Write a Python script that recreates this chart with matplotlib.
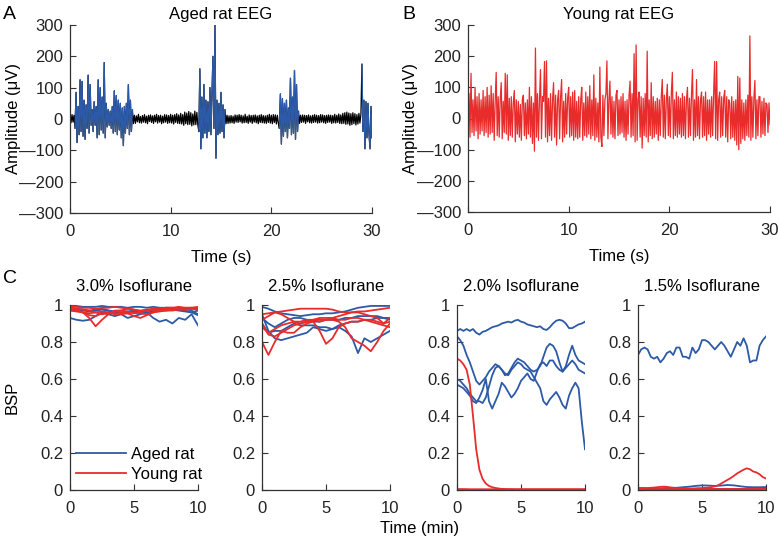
import numpy as np
import matplotlib
matplotlib.use("Agg")
import matplotlib.pyplot as plt
from matplotlib.lines import Line2D

plt.rcParams['font.family'] = ['Liberation Sans', 'DejaVu Sans']
plt.rcParams['font.size'] = 12

BLUE = '#2d5aa6'
RED = '#e82b2b'

# ---- EEG traces, sampled every 0.1 s (uV) ----
aged_uv = [
    8, -12, 14, -10, 12, -30, 85, -75, 40, -50,
    125, -40, 120, -55, 60, -65, 45, -30, 140, -45,
    110, -20, 30, -40, 55, -20, 40, -60, 125, -50,
    100, -35, 70, -45, 180, -60, 50, -25, 30, -20,
    25, -30, 40, -45, 90, -40, 75, -50, 60, -35,
    50, -60, 35, -85, 40, -45, 50, -30, 110, -50,
    60, -40, 30, -15, 12, -14, 10, -9, 15, -12,
    8, -13, 11, -10, 14, -12, 9, -15, 12, -8,
    13, -11, 10, -14, 12, -9, 15, -13, 11, -10,
    12, -15, 9, -12, 14, -10, 13, -14, 11, -12,
    15, -13, 12, -16, 14, -11, 17, -14, 13, -15,
    18, -16, 14, -20, 22, -15, 19, -18, 24, -17,
    20, -22, 16, -19, 25, -18, 21, -20, -40, 160,
    -95, 70, -60, 110, -45, 60, -60, 55, -40, 100,
    -50, 80, 200, -30, 300, -125, 60, -50, 50, -45,
    85, -40, 45, -60, 30, -15, 12, -14, 10, -13,
    11, -12, 9, -14, 13, -10, 12, -11, 14, -9,
    12, -13, 10, -12, 15, -11, 9, -14, 13, -10,
    11, -14, 12, -10, 13, -12, 10, -15, 12, -11,
    14, -12, 11, -13, 10, -14, 12, -11, 15, -13,
    12, -15, 14, -11, 13, -16, 12, -14, -30, 80,
    -80, 65, -55, 50, -40, 60, -60, 35, -30, 130,
    -50, 70, -45, 155, -65, 110, -40, 25, -14, 12,
    -11, 13, -10, 12, -14, 11, -9, 13, -12, 10,
    -13, 12, -11, 14, -10, 12, -13, 11, -12, 14,
    -10, 13, -12, 11, -14, 12, -11, 13, -10, 12,
    -14, 11, -12, 15, -13, 12, -11, 16, -14, 13,
    -15, 18, -14, 20, -17, 22, -16, 19, -20, 17,
    -18, 20, -15, 17, -19, 14, -16, 18, -13, 15,
    175, -40, 60, -95, 55, -60, 50, -45, -95, 40,
    -60,
]
# burst-suppression bursts in the aged trace (start s, end s)
aged_bursts = [(0.5, 6.2), (12.8, 15.4), (20.8, 22.7), (29.0, 30.0)]

young_uv = [
    -20, 80, -60, 145, -45, 60, -55, 100, -40, 70,
    -65, 80, -50, 60, -40, 90, -55, 70, -45, 100,
    -60, 75, -50, 105, -45, 80, -70, 55, 148, -55,
    70, -60, 60, 115, -65, 55, -45, 145, -50, 140,
    -70, 65, -55, 70, -60, 50, 90, -75, 60, -50,
    55, -60, 45, -70, 60, 75, -55, 50, -65, 60,
    -50, 100, -60, 70, -80, 50, -105, 226, -60, 80,
    -70, 60, 157, -65, 70, 55, 183, -60, 185, -75,
    65, -55, 80, -70, 60, 115, -60, 75, -85, 60,
    90, -65, 70, 125, -75, 55, -60, 80, -50, 65,
    100, -60, 70, -55, 85, -70, 90, -60, 55, -65,
    70, -60, 60, 100, -70, 50, -55, 85, -60, 70,
    -50, 105, -65, 60, -55, 140, -70, 65, -60, 50,
    -75, 165, -60, -90, 75, -55, 60, 80, 185, -65,
    60, 120, -50, 70, -60, 55, -65, 75, 90, -55,
    60, -50, 70, -45, 80, -60, 55, -70, 60, -50,
    75, 120, -60, 80, -55, 208, -75, 236, -70, 60,
    85, -60, 70, -95, 65, -55, 80, -60, 216, -75,
    60, -55, 115, -65, 70, -60, 55, -50, 65, -70,
    60, -55, 70, 125, -60, 75, -65, 60, 110, -55,
    70, -60, 80, 148, -65, 60, -55, 85, -60, 70,
    -50, 65, -60, 80, -55, 70, -65, 60, 100, -60,
    65, -55, 75, 157, -70, 60, -60, 125, -55, 70,
    -65, 60, 85, -60, 70, -55, 85, -70, 60, -50,
    60, -60, 70, -55, 80, 183, -65, 183, -70, 60,
    85, -60, 70, -55, 65, 90, -60, 70, -75, 60,
    50, -65, 70, -60, 55, -70, 60, -85, 135, -100,
    130, -80, 60, -65, 50, -70, 60, -55, 75, -60,
    265, -70, 70, -60, 65, 122, -65, 60, -55, 70,
    70, -60, 55, -50, 65, -55, 50, 45, -45, 50,
    -20,
]

eeg_yticks = [-300, -200, -100, 0, 100, 200, 300]
eeg_yticklabels = ['\u2014300', '\u2014200', '\u2014100', '0', '100', '200', '300']
eeg_xticks = [0, 10, 20, 30]

# ---- BSP curves (each spans 0-10 min, evenly sampled) ----
iso_titles = ['3.0% Isoflurane', '2.5% Isoflurane', '2.0% Isoflurane', '1.5% Isoflurane']

bsp_aged_30 = [
    [0.995, 0.995, 0.99, 0.99, 0.99, 0.995, 0.99, 0.99, 0.99, 0.985, 0.99, 0.99, 0.985, 0.99, 0.985, 0.985, 0.985, 0.98, 0.98, 0.97, 0.95],
    [0.97, 0.975, 0.97, 0.965, 0.97, 0.975, 0.97, 0.965, 0.96, 0.965, 0.97, 0.965, 0.96, 0.965, 0.97, 0.97, 0.975, 0.97, 0.965, 0.96, 0.945],
    [0.93, 0.92, 0.915, 0.92, 0.94, 0.96, 0.95, 0.94, 0.95, 0.93, 0.94, 0.95, 0.96, 0.93, 0.91, 0.92, 0.90, 0.93, 0.92, 0.95, 0.89],
    [0.985, 0.98, 0.975, 0.97, 0.975, 0.98, 0.97, 0.96, 0.955, 0.96, 0.965, 0.96, 0.97, 0.975, 0.98, 0.985, 0.98, 0.975, 0.97, 0.96, 0.97],
]
bsp_young_30 = [
    [0.98, 0.975, 0.96, 0.93, 0.885, 0.92, 0.95, 0.97, 0.97, 0.98, 0.975, 0.97, 0.975, 0.98, 0.98, 0.985, 0.985, 0.98, 0.985, 0.985, 0.985],
    [0.99, 0.99, 0.985, 0.985, 0.98, 0.985, 0.985, 0.99, 0.985, 0.98, 0.975, 0.965, 0.97, 0.975, 0.98, 0.985, 0.985, 0.99, 0.985, 0.985, 0.98],
    [0.97, 0.965, 0.96, 0.955, 0.96, 0.965, 0.96, 0.95, 0.96, 0.955, 0.94, 0.93, 0.945, 0.96, 0.965, 0.97, 0.97, 0.975, 0.975, 0.98, 0.98],
    [0.985, 0.98, 0.975, 0.97, 0.96, 0.95, 0.955, 0.965, 0.97, 0.965, 0.955, 0.96, 0.97, 0.975, 0.97, 0.975, 0.98, 0.98, 0.975, 0.98, 0.975],
    [0.98, 0.97, 0.96, 0.945, 0.94, 0.955, 0.96, 0.955, 0.95, 0.955, 0.96, 0.955, 0.95, 0.96, 0.97, 0.98, 0.975, 0.985, 0.98, 0.985, 0.99],
]

bsp_aged_25 = [
    [0.99, 0.98, 0.965, 0.955, 0.95, 0.945, 0.94, 0.945, 0.95, 0.95, 0.955, 0.955, 0.96, 0.965, 0.975, 0.985, 0.99, 0.995, 0.995, 0.995, 0.995],
    [0.95, 0.86, 0.82, 0.81, 0.82, 0.83, 0.84, 0.85, 0.88, 0.87, 0.86, 0.87, 0.88, 0.86, 0.83, 0.74, 0.82, 0.80, 0.82, 0.84, 0.86],
    [0.90, 0.85, 0.86, 0.86, 0.88, 0.90, 0.89, 0.89, 0.89, 0.88, 0.88, 0.87, 0.89, 0.90, 0.91, 0.91, 0.92, 0.92, 0.93, 0.93, 0.93],
    [0.93, 0.90, 0.88, 0.90, 0.92, 0.93, 0.93, 0.92, 0.91, 0.91, 0.92, 0.92, 0.92, 0.93, 0.93, 0.94, 0.94, 0.94, 0.94, 0.93, 0.92],
]
bsp_young_25 = [
    [0.80, 0.73, 0.80, 0.86, 0.85, 0.85, 0.88, 0.90, 0.91, 0.86, 0.79, 0.82, 0.88, 0.90, 0.91, 0.91, 0.92, 0.92, 0.91, 0.90, 0.91],
    [0.95, 0.955, 0.96, 0.965, 0.97, 0.975, 0.98, 0.98, 0.98, 0.98, 0.98, 0.975, 0.965, 0.96, 0.96, 0.965, 0.965, 0.97, 0.975, 0.98, 0.985],
    [0.90, 0.84, 0.83, 0.85, 0.87, 0.89, 0.90, 0.91, 0.92, 0.93, 0.93, 0.93, 0.92, 0.92, 0.93, 0.93, 0.92, 0.91, 0.90, 0.89, 0.88],
    [0.92, 0.94, 0.96, 0.95, 0.93, 0.91, 0.90, 0.91, 0.92, 0.92, 0.92, 0.93, 0.94, 0.95, 0.96, 0.96, 0.95, 0.94, 0.93, 0.90, 0.93],
    [0.88, 0.85, 0.87, 0.89, 0.90, 0.91, 0.91, 0.92, 0.92, 0.91, 0.92, 0.92, 0.91, 0.88, 0.82, 0.80, 0.78, 0.75, 0.80, 0.86, 0.90],
]

bsp_aged_20 = [
    [0.86, 0.87, 0.86, 0.87, 0.86, 0.87, 0.85, 0.84, 0.855, 0.86, 0.87, 0.88, 0.885, 0.89, 0.90, 0.905, 0.91, 0.905, 0.915, 0.92, 0.91,
     0.905, 0.895, 0.89, 0.885, 0.88, 0.885, 0.87, 0.865, 0.88, 0.90, 0.915, 0.92, 0.915, 0.90, 0.875, 0.875, 0.885, 0.895, 0.90, 0.91],
    [0.83, 0.81, 0.78, 0.73, 0.69, 0.64, 0.59, 0.57, 0.59, 0.61, 0.64, 0.66, 0.68, 0.67, 0.65, 0.63, 0.62, 0.65, 0.67, 0.69, 0.68,
     0.66, 0.65, 0.64, 0.61, 0.58, 0.55, 0.48, 0.46, 0.49, 0.51, 0.53, 0.50, 0.46, 0.44, 0.51, 0.55, 0.58, 0.55, 0.37, 0.22],
    [0.60, 0.59, 0.57, 0.55, 0.52, 0.50, 0.48, 0.48, 0.47, 0.50, 0.56, 0.62, 0.66, 0.67, 0.65, 0.62, 0.63, 0.66, 0.69, 0.71, 0.70,
     0.69, 0.67, 0.65, 0.64, 0.65, 0.67, 0.72, 0.77, 0.79, 0.78, 0.75, 0.69, 0.64, 0.67, 0.73, 0.78, 0.73, 0.70, 0.69, 0.68],
    [0.57, 0.56, 0.55, 0.53, 0.51, 0.48, 0.47, 0.50, 0.54, 0.60, 0.48, 0.44, 0.48, 0.52, 0.58, 0.56, 0.53, 0.50, 0.52, 0.55, 0.59,
     0.61, 0.63, 0.60, 0.59, 0.64, 0.68, 0.69, 0.67, 0.70, 0.70, 0.67, 0.65, 0.64, 0.66, 0.68, 0.70, 0.68, 0.65, 0.64, 0.63],
]
bsp_young_20 = [
    [0.71, 0.70, 0.68, 0.65, 0.57, 0.40, 0.22, 0.11, 0.06, 0.035, 0.022, 0.015, 0.011, 0.008, 0.006, 0.005, 0.004, 0.004, 0.003, 0.003, 0.003,
     0.003, 0.003, 0.003, 0.003, 0.003, 0.003, 0.003, 0.003, 0.003, 0.003, 0.003, 0.003, 0.003, 0.003, 0.003, 0.003, 0.003, 0.003, 0.003, 0.003],
    [0.005, 0.005, 0.004, 0.004, 0.004, 0.004, 0.004, 0.004, 0.004, 0.004, 0.004, 0.004, 0.004, 0.004, 0.004, 0.004, 0.004, 0.004, 0.004, 0.004, 0.004],
    [0.002, 0.002, 0.002, 0.002, 0.002, 0.002, 0.002, 0.002, 0.002, 0.002, 0.002, 0.002, 0.002, 0.002, 0.002, 0.002, 0.002, 0.002, 0.002, 0.002, 0.002],
]

bsp_aged_15 = [
    [0.73, 0.76, 0.77, 0.76, 0.72, 0.71, 0.72, 0.69, 0.71, 0.74, 0.75, 0.73, 0.77, 0.77, 0.72, 0.72, 0.71, 0.77, 0.74, 0.76, 0.81,
     0.81, 0.80, 0.78, 0.76, 0.78, 0.80, 0.78, 0.75, 0.72, 0.76, 0.80, 0.78, 0.82, 0.78, 0.69, 0.70, 0.70, 0.78, 0.81, 0.83],
    [0.01, 0.01, 0.008, 0.008, 0.01, 0.012, 0.012, 0.015, 0.018, 0.022, 0.025, 0.024, 0.022, 0.024, 0.027, 0.025, 0.02, 0.016, 0.015, 0.015, 0.016],
    [0.003, 0.003, 0.003, 0.003, 0.003, 0.003, 0.003, 0.003, 0.003, 0.003, 0.003, 0.003, 0.003, 0.003, 0.003, 0.003, 0.003, 0.003, 0.003, 0.003, 0.003],
]
bsp_young_15 = [
    [0.01, 0.01, 0.01, 0.01, 0.012, 0.013, 0.015, 0.017, 0.018, 0.017, 0.014, 0.012, 0.01, 0.01, 0.009, 0.009, 0.008, 0.008, 0.009, 0.01, 0.01,
     0.012, 0.013, 0.016, 0.02, 0.025, 0.035, 0.045, 0.055, 0.065, 0.077, 0.09, 0.10, 0.11, 0.117, 0.112, 0.10, 0.095, 0.085, 0.07, 0.062],
    [0.005, 0.005, 0.005, 0.005, 0.005, 0.005, 0.005, 0.005, 0.005, 0.005, 0.005, 0.005, 0.005, 0.005, 0.005, 0.005, 0.005, 0.005, 0.005, 0.005, 0.005],
    [0.001, 0.001, 0.001, 0.001, 0.001, 0.001, 0.001, 0.001, 0.001, 0.001, 0.001, 0.001, 0.001, 0.001, 0.001, 0.001, 0.001, 0.001, 0.001, 0.001, 0.001],
]

bsp_aged = [bsp_aged_30, bsp_aged_25, bsp_aged_20, bsp_aged_15]
bsp_young = [bsp_young_30, bsp_young_25, bsp_young_20, bsp_young_15]
bsp_yticks = [0, 0.2, 0.4, 0.6, 0.8, 1]
bsp_yticklabels = ['0', '0.2', '0.4', '0.6', '0.8', '1']
bsp_xticks = [0, 5, 10]


def style_axes(ax):
    for s in ['top', 'right']:
        ax.spines[s].set_visible(False)
    for s in ['left', 'bottom']:
        ax.spines[s].set_color('#333333')
        ax.spines[s].set_linewidth(0.9)
    ax.tick_params(direction='in', length=4, width=0.8, colors='#333333',
                   labelcolor='#222222', labelsize=12, pad=5)
    ax.tick_params(axis='x', pad=8)


W, H = 779, 542
fig = plt.figure(figsize=(W / 100, H / 100), dpi=100)


def px_axes(left, top, right, bottom):
    return fig.add_axes([left / W, 1 - bottom / H, (right - left) / W, (bottom - top) / H])


# ---- Panel A ----
axA = px_axes(70, 25, 372, 213)
t_aged = np.arange(len(aged_uv)) * 0.1
v_aged = np.array(aged_uv, dtype=float)
axA.plot(t_aged, v_aged, color='black', lw=0.9)
in_burst = np.zeros(len(t_aged), dtype=bool)
for a, b in aged_bursts:
    in_burst |= (t_aged >= a - 1e-9) & (t_aged <= b + 1e-9)
axA.plot(t_aged, np.where(in_burst, v_aged, np.nan), color=BLUE, lw=0.9)
axA.set_xlim(0, 30)
axA.set_ylim(-300, 300)
axA.set_xticks(eeg_xticks)
axA.set_yticks(eeg_yticks)
axA.set_yticklabels(eeg_yticklabels)
axA.set_xlabel('Time (s)', labelpad=8)
axA.set_ylabel('Amplitude (\u03bcV)')
axA.yaxis.set_label_coords(-0.163, 0.5)
axA.set_title('Aged rat EEG', fontsize=12, pad=4)
style_axes(axA)

# ---- Panel B ----
axB = px_axes(468, 25, 770, 212)
t_young = np.arange(len(young_uv)) * 0.1
axB.plot(t_young, young_uv, color=RED, lw=0.9)
axB.set_xlim(0, 30)
axB.set_ylim(-300, 300)
axB.set_xticks(eeg_xticks)
axB.set_yticks(eeg_yticks)
axB.set_yticklabels(eeg_yticklabels)
axB.set_xlabel('Time (s)', labelpad=8)
axB.set_ylabel('Amplitude (\u03bcV)')
axB.yaxis.set_label_coords(-0.166, 0.5)
axB.set_title('Young rat EEG', fontsize=12, pad=4)
style_axes(axB)

# ---- Panel C ----
c_lefts = [70, 262, 457, 638]
for k in range(4):
    ax = px_axes(c_lefts[k], 305, c_lefts[k] + 128, 490)
    for y in bsp_aged[k]:
        ax.plot(np.linspace(0, 10, len(y)), y, color=BLUE, lw=1.3)
    for y in bsp_young[k]:
        ax.plot(np.linspace(0, 10, len(y)), y, color=RED, lw=1.3)
    ax.set_xlim(0, 10)
    ax.set_ylim(0, 1)
    ax.set_xticks(bsp_xticks)
    ax.set_yticks(bsp_yticks)
    ax.set_yticklabels(bsp_yticklabels)
    ax.set_title(iso_titles[k], fontsize=12, pad=10)
    style_axes(ax)
    if k == 0:
        ax.set_ylabel('BSP')
        ax.yaxis.set_label_coords(-0.39, 0.5)
        handles = [Line2D([], [], color=BLUE, lw=1.3), Line2D([], [], color=RED, lw=1.3)]
        ax.legend(handles, ['Aged rat', 'Young rat'], loc='upper left',
                  bbox_to_anchor=(0.05, 0.235), frameon=False, handlelength=3.0,
                  handletextpad=0.25, labelspacing=0.3, borderpad=0,
                  borderaxespad=0, fontsize=12)

fig.text(420 / W, 1 - 528 / H, 'Time (min)', ha='center', va='center', fontsize=12)

for lab, x, y in [('A', 3, 6), ('B', 402, 6), ('C', 3, 270)]:
    fig.text(x / W, 1 - y / H, lab, ha='left', va='top', fontsize=14)

fig.savefig('out.png', dpi=100)
